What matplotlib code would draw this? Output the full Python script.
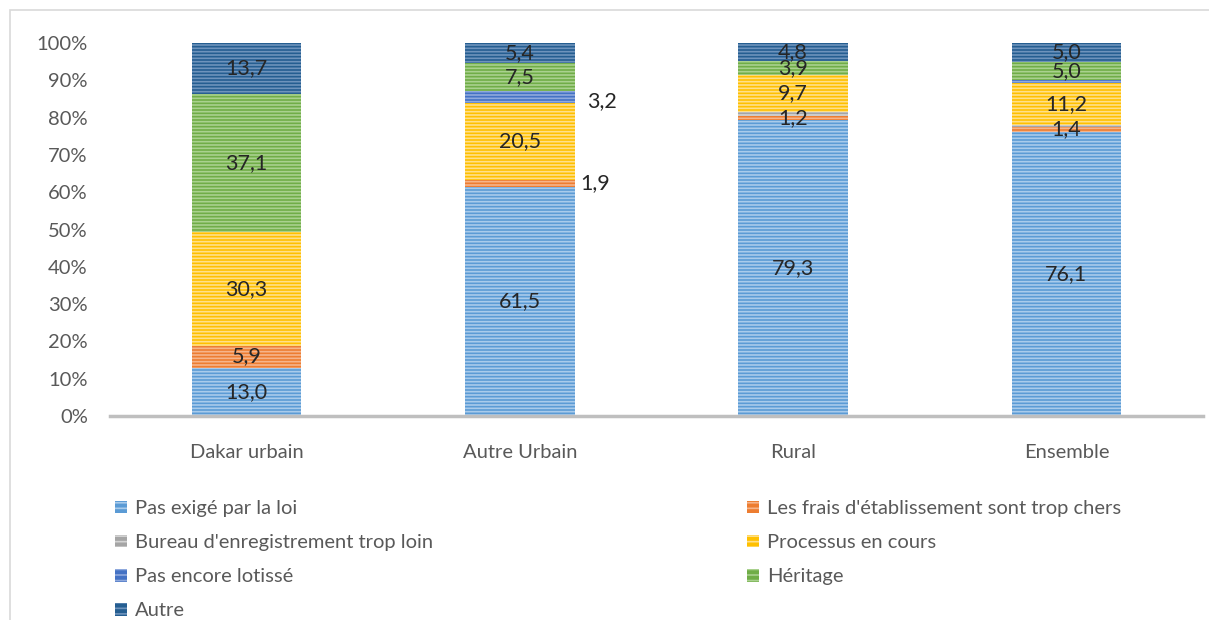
import numpy as np
import matplotlib.pyplot as plt
from matplotlib.patches import Rectangle, Patch

plt.rcParams['font.family'] = ['Lato', 'DejaVu Sans']
plt.rcParams['hatch.linewidth'] = 1.2

# données (%)
categories = ["Dakar urbain", "Autre Urbain", "Rural", "Ensemble"]
series = ["Pas exigé par la loi", "Les frais d'établissement sont trop chers",
          "Bureau d'enregistrement trop loin", "Processus en cours",
          "Pas encore lotissé", "Héritage", "Autre"]
pas_exige = [13.0, 61.5, 79.3, 76.1]
frais = [5.9, 1.9, 1.2, 1.4]
bureau = [0.0, 0.0, 1.1, 0.5]
processus = [30.3, 20.5, 9.7, 11.2]
lotisse = [0.0, 3.2, 0.0, 0.8]
heritage = [37.1, 7.5, 3.9, 5.0]
autre = [13.7, 5.4, 4.8, 5.0]
valeurs = [pas_exige, frais, bureau, processus, lotisse, heritage, autre]
couleurs = ['#5B9BD5', '#ED7D31', '#A5A5A5', '#FFC000', '#4472C4', '#70AD47', '#255E91']
hatchcol = ['#A9CBEB', '#F6B48A', '#D4D4D4', '#FFE08A', '#8FA9DD', '#A9D18E', '#6E93BC']

fig = plt.figure(figsize=(12.09, 6.2), dpi=100)
ax = fig.add_axes([110 / 1209, 1 - 416 / 620, 1093 / 1209, 373 / 620])

x = np.arange(len(categories))
bas = np.zeros(len(categories))
for i, vals in enumerate(valeurs):
    vals = np.array(vals)
    ax.bar(x, vals / 100, 0.4, bottom=bas / 100, color=couleurs[i],
           edgecolor=hatchcol[i], hatch='-----', linewidth=0, label=series[i])
    for j in range(len(categories)):
        # pas d'étiquette pour les très petites valeurs (bureau, lotissé ensemble)
        if vals[j] <= 0 or i == 2 or (i == 4 and j == 3):
            continue
        yc = (bas[j] + vals[j] / 2) / 100
        txt = f"{vals[j]:.1f}".replace('.', ',')
        if j == 1 and i == 1:
            ax.text(x[j] + 0.22, yc, txt, ha='left', va='center', fontsize=15.5, color='#262626')
        elif j == 1 and i == 4:
            ax.text(x[j] + 0.245, yc - 0.012, txt, ha='left', va='center', fontsize=15.5, color='#262626')
        else:
            ax.text(x[j], yc, txt, ha='center', va='center', fontsize=15.5, color='#262626')
    bas += vals

ax.set_xlim(-0.5, 3.5)
ax.set_ylim(0, 1)
ax.set_yticks(np.arange(0, 1.01, 0.1))
ax.set_yticklabels([f"{int(round(v * 100))}%" for v in np.arange(0, 1.01, 0.1)])
ax.set_xticks(x)
ax.set_xticklabels(categories)
ax.tick_params(axis='both', length=0, labelsize=14.5, colors='#595959')
ax.tick_params(axis='x', pad=20)
ax.tick_params(axis='y', pad=16)
for s in ['top', 'right', 'left']:
    ax.spines[s].set_visible(False)
ax.spines['bottom'].set_color('#BFBFBF')
ax.spines['bottom'].set_linewidth(2.5)

# légende en deux colonnes
def poignee(i):
    return Patch(facecolor=couleurs[i], edgecolor=hatchcol[i], hatch='---', linewidth=0)

for idx, x0 in (((0, 2, 4, 6), 107), ((1, 3, 5), 739)):
    leg = fig.legend([poignee(i) for i in idx], [series[i] for i in idx],
                     loc='upper left', bbox_to_anchor=(x0 / 1209, 1 - 492 / 620), frameon=False,
                     fontsize=14.5, handlelength=0.6, handleheight=0.6, handletextpad=0.4,
                     labelspacing=0.85, labelcolor='#595959', borderaxespad=0)

fig.patches.append(Rectangle((10 / 1209, -0.1), 1.2, 1 - 10 / 620 + 0.1, transform=fig.transFigure,
                             fill=False, edgecolor='#D9D9D9', linewidth=1.2))

fig.savefig('out.png', dpi=100)
